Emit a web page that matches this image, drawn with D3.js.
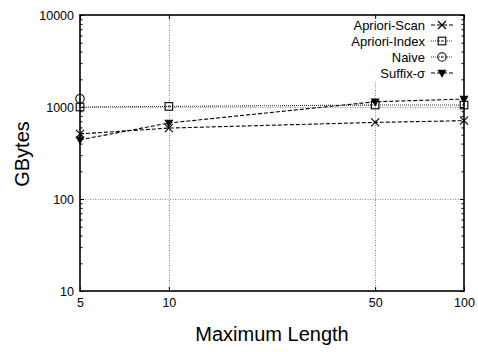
<!DOCTYPE html>
<html>
<head>
<meta charset="utf-8">
<script src="https://cdn.jsdelivr.net/npm/d3@7"></script>
<style>
  html, body { margin: 0; padding: 0; background: #fff; }
  svg text { font-family: "Liberation Sans", Arial, Helvetica, sans-serif; fill: #000; }
</style>
</head>
<body>
<svg id="chart" width="478" height="352"></svg>
<script>
// Maximum pattern length (x) and storage in GBytes (y)
const lengths = [5, 10, 50, 100];
const aprioriScan = [510, 590, 680, 710];
const aprioriIndex = [1000, 1015, 1050, 1050];
const naive = [1230, null, null, null];
const suffixSigma = [440, 670, 1140, 1220];

const xTicks = [5, 10, 50, 100];
const yTicks = [10, 100, 1000, 10000];
const seriesNames = ["Apriori-Scan", "Apriori-Index", "Naive", "Suffix-σ"];

const margin = { left: 80, right: 14, top: 15, bottom: 61 };
const W = 478, H = 352;
const svg = d3.select("#chart");

const x = d3.scaleLog().domain([5, 100]).range([margin.left, W - margin.right]);
const y = d3.scaleLog().domain([10, 10000]).range([H - margin.bottom, margin.top]);
const [x0, x1] = x.range();
const [y0, y1] = y.range();

// minor ticks: 2..9 within each decade
const yMinor = [];
for (let d = 10; d < 10000; d *= 10) for (let k = 2; k <= 9; k++) yMinor.push(d * k);

// grid lines
const grid = svg.append("g").attr("stroke", "#8a8a8a").attr("stroke-width", 1)
  .attr("stroke-dasharray", "1,1.5");
grid.selectAll("line.v").data(xTicks.slice(1, -1)).join("line")
  .attr("x1", d => Math.round(x(d)) + 0.5).attr("x2", d => Math.round(x(d)) + 0.5)
  .attr("y1", y1).attr("y2", y0);
grid.selectAll("line.h").data(yTicks.slice(1, -1)).join("line")
  .attr("x1", x0).attr("x2", x1)
  .attr("y1", d => Math.round(y(d)) + 0.5).attr("y2", d => Math.round(y(d)) + 0.5);

// legend background (opaque key box)
svg.append("rect").attr("x", 344).attr("y", y1 + 2).attr("width", x1 - 346).attr("height", 64)
  .attr("fill", "#fff");

// axes
const tickFont = "12.5px";
const yAxis = svg.append("g").attr("transform", `translate(${x0},0)`)
  .call(d3.axisLeft(y).tickValues(yTicks).tickFormat(d3.format("d")).tickSizeInner(-4).tickSizeOuter(0).tickPadding(6));
const yAxisR = svg.append("g").attr("transform", `translate(${x1},0)`)
  .call(d3.axisRight(y).tickValues(yTicks).tickFormat("").tickSizeInner(-4).tickSizeOuter(0));
const yMinL = svg.append("g").attr("transform", `translate(${x0},0)`)
  .call(d3.axisLeft(y).tickValues(yMinor).tickFormat("").tickSizeInner(-2.5).tickSizeOuter(0));
const yMinR = svg.append("g").attr("transform", `translate(${x1},0)`)
  .call(d3.axisRight(y).tickValues(yMinor).tickFormat("").tickSizeInner(-2.5).tickSizeOuter(0));
const xAxis = svg.append("g").attr("transform", `translate(0,${y0})`)
  .call(d3.axisBottom(x).tickValues(xTicks).tickFormat(d3.format("d")).tickSizeInner(-4).tickSizeOuter(0).tickPadding(7));
const xAxisT = svg.append("g").attr("transform", `translate(0,${y1})`)
  .call(d3.axisTop(x).tickValues(xTicks).tickFormat("").tickSizeInner(-4).tickSizeOuter(0));

[yAxis, yAxisR, yMinL, yMinR, xAxis, xAxisT].forEach(g => {
  g.select(".domain").remove();
  g.selectAll(".tick line").attr("stroke", "#000").attr("stroke-width", 1);
  g.selectAll(".tick text").style("font-size", tickFont).attr("fill", "#000");
});
yAxis.selectAll(".tick text").attr("dy", "0.36em");

// frame
svg.append("rect").attr("x", x0).attr("y", y1).attr("width", x1 - x0).attr("height", y0 - y1)
  .attr("fill", "none").attr("stroke", "#000").attr("stroke-width", 1.6);

// marker drawing
function marker(g, type, cx, cy) {
  const m = g.append("g").attr("transform", `translate(${cx},${cy})`)
    .attr("stroke", "#000").attr("stroke-width", 1.1).attr("fill", "none");
  if (type === "x") {
    m.append("path").attr("d", "M-4,-4L4,4M-4,4L4,-4");
  } else if (type === "square") {
    m.append("rect").attr("x", -3.8).attr("y", -3.8).attr("width", 7.6).attr("height", 7.6);
    m.append("rect").attr("x", -0.6).attr("y", -0.6).attr("width", 1.2).attr("height", 1.2).attr("fill", "#000").attr("stroke", "none");
  } else if (type === "circle") {
    m.append("circle").attr("r", 4.2);
    m.append("circle").attr("r", 0.8).attr("fill", "#000").attr("stroke", "none");
  } else if (type === "tri") {
    m.append("path").attr("d", "M-3.6,-2.8L3.6,-2.8L0,3.6Z").attr("fill", "#000");
  }
}

const series = [
  { name: seriesNames[0], values: aprioriScan, dash: "4,2", color: "#000", width: 1.1, mark: "x" },
  { name: seriesNames[1], values: aprioriIndex, dash: "1,1", color: "#333", width: 1.1, mark: "square" },
  { name: seriesNames[2], values: naive, dash: "1,1", color: "#333", width: 1.1, mark: "circle" },
  { name: seriesNames[3], values: suffixSigma, dash: "4,2", color: "#000", width: 1.1, mark: "tri" }
];

const line = d3.line().defined(d => d[1] != null).x(d => x(d[0])).y(d => y(d[1]));
const plot = svg.append("g");
series.forEach(s => {
  const pts = lengths.map((l, i) => [l, s.values[i]]);
  plot.append("path").attr("d", line(pts)).attr("fill", "none")
    .attr("stroke", s.color).attr("stroke-width", s.width).attr("stroke-dasharray", s.dash);
  pts.filter(p => p[1] != null).forEach(p => marker(plot, s.mark, x(p[0]), y(p[1])));
});

// legend
const leg = svg.append("g");
series.forEach((s, i) => {
  const cy = 25 + i * 16;
  leg.append("text").attr("x", 425).attr("y", cy).attr("dy", "0.36em").attr("text-anchor", "end")
    .style("font-size", "13px").text(s.name);
  leg.append("line").attr("x1", 431).attr("x2", 453).attr("y1", cy).attr("y2", cy)
    .attr("stroke", s.color).attr("stroke-width", s.width).attr("stroke-dasharray", s.dash);
  marker(leg, s.mark, 442, cy);
});

// axis titles
svg.append("text").attr("x", (x0 + x1) / 2).attr("y", 341).attr("text-anchor", "middle")
  .style("font-size", "20px").text("Maximum Length");
svg.append("text").attr("transform", `translate(29,154) rotate(-90)`).attr("text-anchor", "middle")
  .style("font-size", "20px").text("GBytes");
</script>
</body>
</html>
